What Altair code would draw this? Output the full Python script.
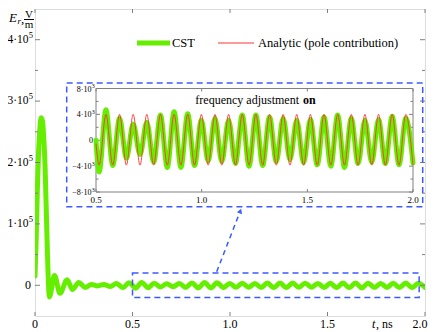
import altair as alt
import pandas as pd

# ---------------- data ----------------
# CST field, extrema-based samples, t in ns, E in V/m
cst_t = [0.000, 0.006, 0.012, 0.018, 0.024, 0.031, 0.038, 0.045, 0.052, 0.058,
         0.064, 0.074, 0.100, 0.128, 0.165, 0.192, 0.2245, 0.2568, 0.289, 0.3213,
         0.3535, 0.3858, 0.418, 0.4503, 0.4825, 0.500, 0.5148, 0.547, 0.5793, 0.6115,
         0.6438, 0.676, 0.7083, 0.7405, 0.7728, 0.805, 0.8373, 0.8695, 0.9018, 0.934,
         0.9663, 0.9985, 1.0308, 1.063, 1.0953, 1.1275, 1.1598, 1.192, 1.2243, 1.2565,
         1.2888, 1.321, 1.3533, 1.3855, 1.4178, 1.450, 1.4823, 1.5145, 1.5468, 1.579,
         1.6113, 1.6435, 1.6758, 1.708, 1.7403, 1.7725, 1.8048, 1.837, 1.8693, 1.9015,
         1.9338, 1.966, 2.000]
cst_v = [15000, 75000, 155000, 215000, 250000, 273000, 268000, 240000, 190000, 120000,
         50000, -19000, 16000, -13000, 9000, -7000, 4500, -3500, 1500, -1000,
         1200, -2000, 3000, -4000, 4200, 0, -4900, 4700, -3900, 3400,
         -2800, 2500, -2200, 2800, -3400, 3900, -4200, 4400, -4200, 4100,
         -3900, 3100, -3200, 3400, -3300, 3100, -3600, 3900, -4000, 3900,
         -3900, 3600, -3300, 3400, -3000, 3100, -3500, 3200, -3800, 3600,
         -4000, 3900, -4200, 3400, -3600, 3100, -3400, 3200, -3600, 3700,
         -3800, 3400, -3500]

# Analytic (pole contribution), shown in the inset
ana_t = [0.500, 0.5148, 0.547, 0.5793, 0.6115, 0.6438, 0.676, 0.7083, 0.7405, 0.7728,
         0.805, 0.8373, 0.8695, 0.9018, 0.934, 0.9663, 0.9985, 1.0308, 1.063, 1.0953,
         1.1275, 1.1598, 1.192, 1.2243, 1.2565, 1.2888, 1.321, 1.3533, 1.3855, 1.4178,
         1.450, 1.4823, 1.5145, 1.5468, 1.579, 1.6113, 1.6435, 1.6758, 1.708, 1.7403,
         1.7725, 1.8048, 1.837, 1.8693, 1.9015, 1.9338, 1.966, 2.000]
ana_v = [-500, -3850, 4000, -3850, 4000, -3850, 4000, -3850, 4000, -3850,
         4000, -3850, 4000, -3850, 4000, -3850, 4000, -3850, 4000, -3850,
         4000, -3850, 4000, -3850, 4000, -3850, 4000, -3850, 4000, -3850,
         4000, -3850, 4000, -3850, 4000, -3850, 4000, -3850, 4000, -3850,
         4000, -3850, 4000, -3850, 4000, -3850, 4000, -3850]

# highlighted window in the main plot
zoom_t = [0.5, 1.97]
zoom_v = [-20000, 20000]

main_x_ticks = [0, 0.5, 1.0, 1.5, 2.0]
main_x_labels = ["0", "0.5", "1.0", "1.5", "2.0"]
main_x_label_shift = [0, 0, 0, 0, -5]
main_y_major = [0, 100000, 200000, 300000, 400000]
main_y_minor = [50000, 150000, 250000, 350000]
main_y_pow = [100000, 200000, 300000, 400000]
main_y_mant = ["1·10", "2·10", "3·10", "4·10"]
main_y_exp = ["5", "5", "5", "5"]
main_y_zero = [0]

inset_x_ticks = [0.5, 1.0, 1.5, 2.0]
inset_x_labels = ["0.5", "1.0", "1.5", "2.0"]
inset_y_major = [-8000, -4000, 0, 4000, 8000]
inset_y_minor = [-6000, -2000, 2000, 6000]
inset_y_pow = [-8000, -4000, 4000, 8000]
inset_y_mant = ["−8·10", "−4·10", "4·10", "8·10"]
inset_y_exp = ["3", "3", "3", "3"]
inset_y_zero = [0]
inset_x_domain = [0.5, 2.0]
inset_y_domain = [-8000, 8000]

# ---------------- styling ----------------
FONT = "Liberation Serif"
GREEN = "#66ee00"
RED = "#ff3535"
BLUE = "#3c5aff"
GRAY = "#808080"
W, H = 390, 307

mx = alt.Scale(domain=[0, 2.0], nice=False, zero=False)
my = alt.Scale(domain=[-50000, 450000], nice=False, zero=False)
ix = alt.Scale(domain=inset_x_domain, range=[61, 378], nice=False, zero=False)
iy = alt.Scale(domain=inset_y_domain, range=[183, 79.5], nice=False, zero=False)

cst = pd.DataFrame({"t": cst_t, "v": cst_v})
ana = pd.DataFrame({"t": ana_t, "v": ana_v})
one = pd.DataFrame({"k": [0]})


def txt(s, x, y, size=12, align="left", style="normal", weight="normal"):
    return alt.Chart(one).mark_text(font=FONT, fontSize=size, align=align, baseline="middle",
                                    fontStyle=style, fontWeight=weight, color="black").encode(
        x=alt.value(x), y=alt.value(y), text=alt.value(s))


layers = []

# main CST curve
layers.append(alt.Chart(cst).mark_line(color=GREEN, strokeWidth=5, interpolate="monotone",
                                        clip=True, strokeCap="round", strokeJoin="round").encode(
    x=alt.X("t:Q", scale=mx, axis=None), y=alt.Y("v:Q", scale=my, axis=None)))

# highlighted window
zb = pd.DataFrame({"t0": [zoom_t[0]], "t1": [zoom_t[1]], "v0": [zoom_v[0]], "v1": [zoom_v[1]]})
layers.append(alt.Chart(zb).mark_rect(fillOpacity=0, stroke=BLUE, strokeWidth=1.5, strokeDash=[6, 4]).encode(
    x=alt.X("t0:Q", scale=mx, axis=None), x2="t1:Q",
    y=alt.Y("v0:Q", scale=my, axis=None), y2="v1:Q"))

# main ticks (inward)
mxt = pd.DataFrame({"t": main_x_ticks, "lab": main_x_labels, "sh": main_x_label_shift})
for y0, y1 in [(H, H - 4), (0, 4)]:
    layers.append(alt.Chart(mxt).mark_rule(color=GRAY, strokeWidth=1).encode(
        x=alt.X("t:Q", scale=mx, axis=None), y=alt.value(y0), y2=alt.value(y1)))
myt = pd.DataFrame({"v": main_y_major})
mym = pd.DataFrame({"v": main_y_minor})
for df, ln in [(myt, 5), (mym, 3)]:
    for x0, x1 in [(0, ln), (W, W - ln)]:
        layers.append(alt.Chart(df).mark_rule(color=GRAY, strokeWidth=1).encode(
            y=alt.Y("v:Q", scale=my, axis=None), x=alt.value(x0), x2=alt.value(x1)))

# main tick labels
layers.append(alt.Chart(mxt).transform_filter(alt.datum.sh == 0).mark_text(
    font=FONT, fontSize=12, color="black", baseline="middle").encode(
    x=alt.X("t:Q", scale=mx, axis=None), y=alt.value(315), text="lab:N"))
layers.append(alt.Chart(mxt).transform_filter(alt.datum.sh != 0).mark_text(
    font=FONT, fontSize=12, color="black", baseline="middle", dx=-5).encode(
    x=alt.X("t:Q", scale=mx, axis=None), y=alt.value(315), text="lab:N"))
myl = pd.DataFrame({"v": main_y_pow, "m": main_y_mant, "e": main_y_exp})
layers.append(alt.Chart(myl).mark_text(font=FONT, fontSize=11.5, color="black", align="right",
                                       baseline="middle").encode(
    y=alt.Y("v:Q", scale=my, axis=None), x=alt.value(-6.5), text="m:N"))
layers.append(alt.Chart(myl).mark_text(font=FONT, fontSize=8.5, color="black", align="left",
                                       baseline="middle", dy=-5).encode(
    y=alt.Y("v:Q", scale=my, axis=None), x=alt.value(-6.3), text="e:N"))
layers.append(alt.Chart(pd.DataFrame({"v": main_y_zero, "lab": ["0"]})).mark_text(
    font=FONT, fontSize=12, color="black", align="right", baseline="middle").encode(
    y=alt.Y("v:Q", scale=my, axis=None), x=alt.value(-4), text="lab:N"))

# axis titles
layers.append(txt("t", 337, 315, style="italic"))
layers.append(txt(",  ns", 341, 315))
layers.append(txt("E", -26, 9, size=13, style="italic"))
layers.append(txt("r", -17.5, 12, size=9, style="italic"))
layers.append(txt(",", -14, 10, size=13))
layers.append(txt("V", -6, 5.5, size=11, align="center"))
layers.append(txt("m", -6, 16, size=11, align="center"))
layers.append(alt.Chart(one).mark_rule(color="black", strokeWidth=1).encode(
    x=alt.value(-11), x2=alt.value(-1), y=alt.value(10.5)))

# legend
layers.append(alt.Chart(one).mark_rule(color=GREEN, strokeWidth=5).encode(
    x=alt.value(102), x2=alt.value(135), y=alt.value(34)))
layers.append(txt("CST", 137, 34, size=12.5))
layers.append(alt.Chart(one).mark_rule(color=RED, strokeWidth=1).encode(
    x=alt.value(183), x2=alt.value(219), y=alt.value(34)))
layers.append(txt("Analytic (pole contribution)", 223, 34, size=12.5))

# inset dashed box and arrow
layers.append(alt.Chart(one).mark_rect(fillOpacity=0, stroke=BLUE, strokeWidth=1.5, strokeDash=[6, 4]).encode(
    x=alt.value(31.7), x2=alt.value(387.7), y=alt.value(74), y2=alt.value(197.7)))
layers.append(alt.Chart(one).mark_rule(color=BLUE, strokeWidth=1.5, strokeDash=[5, 4]).encode(
    x=alt.value(181.7), y=alt.value(262.7), x2=alt.value(205.5), y2=alt.value(201.5)))
layers.append(alt.Chart(one).mark_point(shape="triangle-up", filled=True, color=BLUE, opacity=1,
                                        size=30, angle=21).encode(
    x=alt.value(205.3), y=alt.value(202)))

# inset frame
fr = pd.DataFrame({"t0": [inset_x_domain[0]], "t1": [inset_x_domain[1]],
                   "v0": [inset_y_domain[0]], "v1": [inset_y_domain[1]]})
layers.append(alt.Chart(fr).mark_rect(fill="white", stroke=GRAY, strokeWidth=1).encode(
    x=alt.X("t0:Q", scale=ix, axis=None), x2="t1:Q",
    y=alt.Y("v0:Q", scale=iy, axis=None), y2="v1:Q"))

# inset ticks
ixt = pd.DataFrame({"t": inset_x_ticks, "lab": inset_x_labels})
for y0, y1 in [(183, 180), (79.5, 82.5)]:
    layers.append(alt.Chart(ixt).mark_rule(color=GRAY, strokeWidth=1).encode(
        x=alt.X("t:Q", scale=ix, axis=None), y=alt.value(y0), y2=alt.value(y1)))
iyt = pd.DataFrame({"v": inset_y_major})
iym = pd.DataFrame({"v": inset_y_minor})
for df, ln in [(iyt, 4), (iym, 2.5)]:
    for x0, x1 in [(61, 61 + ln), (378, 378 - ln)]:
        layers.append(alt.Chart(df).mark_rule(color=GRAY, strokeWidth=1).encode(
            y=alt.Y("v:Q", scale=iy, axis=None), x=alt.value(x0), x2=alt.value(x1)))

# inset curves
layers.append(alt.Chart(cst).transform_filter(alt.datum.t >= 0.5).mark_line(
    color=GREEN, strokeWidth=5, interpolate="monotone", strokeCap="round", strokeJoin="round").encode(
    x=alt.X("t:Q", scale=ix, axis=None), y=alt.Y("v:Q", scale=iy, axis=None)))
layers.append(alt.Chart(ana).mark_line(color=RED, strokeWidth=0.9, interpolate="monotone").encode(
    x=alt.X("t:Q", scale=ix, axis=None), y=alt.Y("v:Q", scale=iy, axis=None)))

# inset labels
layers.append(alt.Chart(ixt).mark_text(font=FONT, fontSize=9, color="black", baseline="middle").encode(
    x=alt.X("t:Q", scale=ix, axis=None), y=alt.value(190.5), text="lab:N"))
iyl = pd.DataFrame({"v": inset_y_pow, "m": inset_y_mant, "e": inset_y_exp})
layers.append(alt.Chart(iyl).mark_text(font=FONT, fontSize=8, color="black", align="right",
                                       baseline="middle", dy=1).encode(
    y=alt.Y("v:Q", scale=iy, axis=None), x=alt.value(56.5), text="m:N"))
layers.append(alt.Chart(iyl).mark_text(font=FONT, fontSize=6, color="black", align="left",
                                       baseline="middle", dy=-2.5).encode(
    y=alt.Y("v:Q", scale=iy, axis=None), x=alt.value(56.7), text="e:N"))
layers.append(alt.Chart(pd.DataFrame({"v": inset_y_zero, "lab": ["0"]})).mark_text(
    font=FONT, fontSize=8, color="black", align="right", baseline="middle", dy=1).encode(
    y=alt.Y("v:Q", scale=iy, axis=None), x=alt.value(58), text="lab:N"))
layers.append(txt("frequency adjustment", 264, 91, align="right"))
layers.append(txt("on", 268, 91, weight="bold"))

chart = alt.layer(*layers).resolve_scale(x="independent", y="independent").properties(
    width=W, height=H,
    autosize=alt.AutoSizeParams(type="none"),
    padding={"left": 27, "top": 1, "right": 3, "bottom": 16},
).configure_view(stroke=GRAY, strokeWidth=1).configure(background="white")

chart.save("out.html", embed_options={"renderer": "svg", "actions": False})
